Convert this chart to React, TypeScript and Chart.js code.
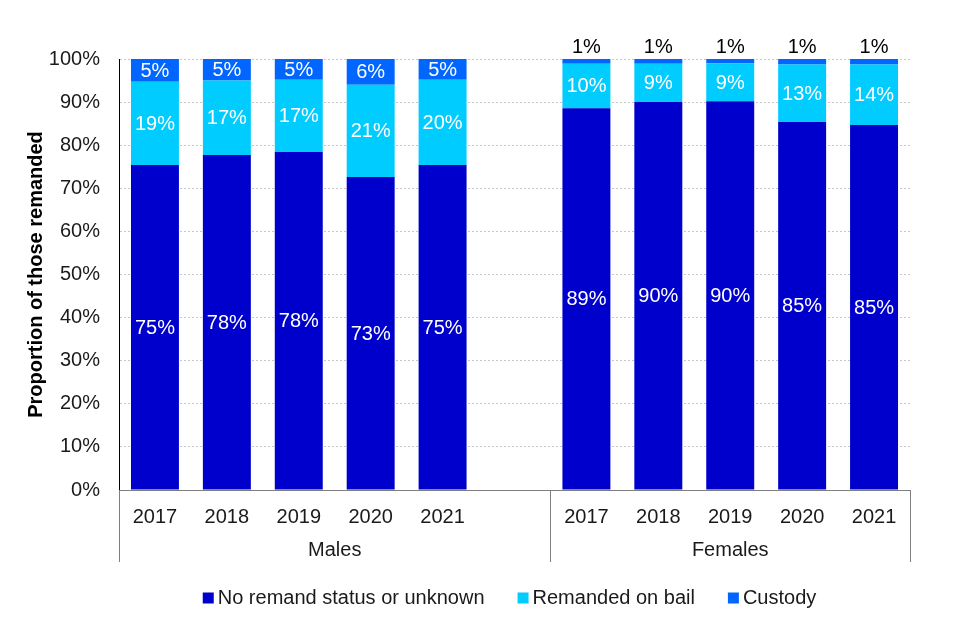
import React, { useEffect, useRef } from 'react';
import { Chart, registerables } from 'chart.js';

Chart.register(...registerables);

const categories = ['2017', '2018', '2019', '2020', '2021', '', '2017', '2018', '2019', '2020', '2021'];
const groupLabels = ['Males', 'Females'];
const seriesNames = ['No remand status or unknown', 'Remanded on bail', 'Custody'];
const seriesColors = ['#0000CC', '#00CCFF', '#0066FF'];
const noRemand = [75.4, 77.7, 78.4, 72.6, 75.4, null, 88.6, 90.0, 90.2, 85.4, 84.7];
const remandedBail = [19.3, 17.3, 16.8, 21.4, 19.8, null, 10.3, 8.9, 8.8, 13.3, 14.0];
const custody = [5.3, 5.0, 4.8, 6.0, 4.8, null, 1.1, 1.1, 1.0, 1.3, 1.3];
const yTicks = [0, 10, 20, 30, 40, 50, 60, 70, 80, 90, 100];

const FONT = '"Liberation Sans", Arial, sans-serif';

const barLabels = {
  id: 'barLabels',
  afterDatasetsDraw(chart: any) {
    const ctx = chart.ctx;
    ctx.save();
    ctx.font = `20px ${FONT}`;
    ctx.textAlign = 'center';
    ctx.textBaseline = 'middle';
    chart.data.datasets.forEach((ds: any, di: number) => {
      const meta = chart.getDatasetMeta(di);
      meta.data.forEach((el: any, i: number) => {
        const v = ds.data[i];
        if (v == null) return;
        const txt = Math.round(v) + '%';
        const p = el.getProps(['x', 'y', 'base'], true);
        if (di === 2 && v < 3) {
          ctx.fillStyle = '#000000';
          ctx.fillText(txt, p.x, p.y - 12);
        } else {
          ctx.fillStyle = '#FFFFFF';
          ctx.fillText(txt, p.x, (p.y + p.base) / 2 + 1);
        }
      });
    });
    ctx.restore();
  },
};

const decorations = {
  id: 'decorations',
  afterDraw(chart: any) {
    const ctx = chart.ctx;
    const xs = chart.scales.x;
    const area = chart.chartArea;
    const left = area.left;
    const right = area.right;
    const mid = (xs.getPixelForValue(5) + xs.getPixelForValue(6)) / 2;
    const top = area.bottom;
    const bottom = area.bottom + 72;
    ctx.save();
    ctx.strokeStyle = '#7F7F7F';
    ctx.lineWidth = 1;
    [left, mid, right].forEach((x) => {
      const px = Math.round(x) + 0.5;
      ctx.beginPath();
      ctx.moveTo(px, top);
      ctx.lineTo(px, bottom);
      ctx.stroke();
    });
    ctx.fillStyle = '#1A1A1A';
    ctx.font = `20px ${FONT}`;
    ctx.textAlign = 'center';
    ctx.textBaseline = 'middle';
    ctx.fillText(groupLabels[0], (left + mid) / 2, area.bottom + 60);
    ctx.fillText(groupLabels[1], (mid + right) / 2, area.bottom + 60);

    // legend
    ctx.font = `20px ${FONT}`;
    const box = 11;
    const boxGap = 4;
    const itemGap = 33;
    const widths = seriesNames.map((n) => box + boxGap + ctx.measureText(n).width);
    const total = widths.reduce((a, b) => a + b, 0) + itemGap * (widths.length - 1);
    let x = (left + right) / 2 - 5 - total / 2;
    const ly = 598;
    ctx.textAlign = 'left';
    seriesNames.forEach((n, i) => {
      ctx.fillStyle = seriesColors[i];
      ctx.fillRect(x, ly - box / 2, box, box);
      ctx.fillStyle = '#1A1A1A';
      ctx.fillText(n, x + box + boxGap, ly);
      x += widths[i] + itemGap;
    });
    ctx.restore();
  },
};

export default function App() {
  const ref = useRef<HTMLCanvasElement | null>(null);
  useEffect(() => {
    if (!ref.current) return;
    const chart = new Chart(ref.current, {
      type: 'bar',
      data: {
        labels: categories,
        datasets: [
          { label: seriesNames[0], data: noRemand, backgroundColor: seriesColors[0] },
          { label: seriesNames[1], data: remandedBail, backgroundColor: seriesColors[1] },
          { label: seriesNames[2], data: custody, backgroundColor: seriesColors[2] },
        ] as any,
      },
      options: {
        animation: false,
        responsive: true,
        maintainAspectRatio: false,
        layout: { padding: { top: 59, right: 50, bottom: 78, left: 0 } },
        datasets: { bar: { categoryPercentage: 1, barPercentage: 0.667 } } as any,
        plugins: {
          legend: { display: false },
          tooltip: { enabled: false },
        },
        scales: {
          x: {
            stacked: true,
            grid: { display: false, drawTicks: false },
            border: { display: true, color: '#7F7F7F', width: 1 },
            ticks: {
              color: '#1A1A1A',
              font: { family: FONT, size: 20 },
              padding: 15,
              maxRotation: 0,
              autoSkip: false,
            },
            afterFit: (s: any) => { s.height = 72; },
          },
          y: {
            stacked: true,
            min: 0,
            max: 100,
            afterBuildTicks: (s: any) => { s.ticks = yTicks.map((v) => ({ value: v })); },
            grid: { color: '#C8C8C8', drawTicks: false, lineWidth: 1 },
            border: { display: true, color: '#000000', width: 1, dash: [2, 2] },
            ticks: {
              color: '#1A1A1A',
              font: { family: FONT, size: 20 },
              padding: 19,
              callback: (v: any) => v + '%',
            },
            title: {
              display: true,
              text: 'Proportion of those remanded',
              color: '#000000',
              font: { family: FONT, size: 20, weight: 'bold' },
              padding: { top: 24, bottom: 0 },
            },
            afterFit: (s: any) => { s.width = 119; },
          },
        },
      },
      plugins: [barLabels, decorations],
    });
    return () => chart.destroy();
  }, []);
  return (
    <div style={{ position: 'fixed', left: 0, top: 0, width: 960, height: 640, background: '#fff' }}>
      <canvas ref={ref} />
    </div>
  );
}
